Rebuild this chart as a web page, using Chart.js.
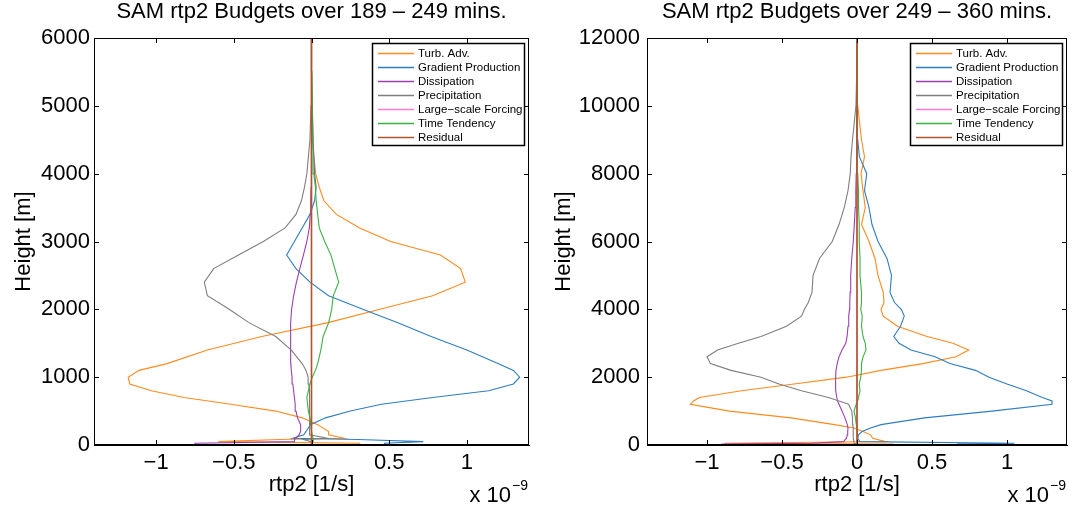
<!DOCTYPE html>
<html>
<head>
<meta charset="utf-8">
<script src="https://cdn.jsdelivr.net/npm/chart.js@4.4.0/dist/chart.umd.min.js"></script>
<style>
  html, body { margin: 0; padding: 0; background: #fff; }
  #wrap { display: flex; width: 1072px; height: 512px; }
  canvas { display: block; }
</style>
</head>
<body>
<div id="wrap">
  <canvas id="leftChart" width="536" height="512"></canvas>
  <canvas id="rightChart" width="536" height="512"></canvas>
</div>
<script>
const seriesNames = ['Turb. Adv.', 'Gradient Production', 'Dissipation', 'Precipitation', 'Large\u2212scale Forcing', 'Time Tendency', 'Residual']
const seriesColors = ['#ff8a1e', '#2f7dc0', '#9b40b0', '#7f7f7f', '#ff78cc', '#3cb043', '#b0542a']

const xTicks = [-1, -0.5, 0, 0.5, 1]
const xTickLabels = ['\u22121', '\u22120.5', '0', '0.5', '1']

// left panel: 189 - 249 mins
const leftTitle = 'SAM rtp2 Budgets over 189 \u2013 249 mins.'
const leftYTicks = [0, 1000, 2000, 3000, 4000, 5000, 6000]
const leftHeights = [0, 25, 50, 80, 100, 150, 200, 300, 400, 500, 600, 700, 800, 900, 1000, 1100, 1200,
  1400, 1600, 1800, 2000, 2200, 2400, 2600, 2800, 3000, 3200, 3400, 3600, 3800, 4000, 4500, 5000, 5500, 6000]
const leftTurbAdv = [0.31, 0.31, -0.6, -0.21, 0.21, 0.11, 0.11, 0.04, -0.06, -0.23, -0.52, -0.82, -1.03, -1.17, -1.18, -1.11, -0.93,
  -0.67, -0.32, 0.1, 0.44, 0.78, 0.99, 0.96, 0.83, 0.51, 0.31, 0.16, 0.08, 0.05, 0.027, 0.005, 0.002, 0, 0]
const leftGradProd = [0.47, 0.47, 0.72, 0.3, -0.12, -0.05, -0.035, -0.007, 0.09, 0.25, 0.45, 0.78, 1.14, 1.3, 1.34, 1.3, 1.2,
  1.0, 0.77, 0.56, 0.33, 0.11, -0.01, -0.1, -0.16, -0.11, -0.06, -0.01, 0.02, 0.03, 0.02, 0.01, 0.005, 0, 0]
const leftDissip = [-0.75, -0.75, -0.11, -0.11, -0.1, -0.08, -0.07, -0.07, -0.09, -0.1, -0.105, -0.11, -0.115, -0.12, -0.125, -0.13, -0.133,
  -0.135, -0.135, -0.133, -0.128, -0.115, -0.097, -0.075, -0.052, -0.03, -0.014, -0.008, -0.005, -0.003, -0.002, 0, 0, 0, 0]
const leftPrecip = [0, 0, 0, -0.05, 0.1, -0.01, -0.01, -0.011, -0.011, -0.012, -0.013, -0.015, -0.016, -0.018, -0.022, -0.035, -0.06,
  -0.13, -0.23, -0.4, -0.53, -0.67, -0.69, -0.63, -0.47, -0.31, -0.17, -0.1, -0.065, -0.045, -0.03, -0.01, -0.003, 0, 0]
const leftForcing = [0, 0, 0, 0, 0, 0, 0, 0, 0, 0, 0, 0, 0, 0, 0, 0, 0,
  0, 0, 0, 0, 0, 0, 0, 0, 0, 0, 0, 0, 0, 0, 0, 0, 0, 0]
const leftTendency = [0.005, 0.005, 0.01, 0.01, 0.01, 0.005, 0, -0.005, -0.01, -0.02, -0.025, -0.03, -0.02, -0.01, 0.005, 0.025, 0.04,
  0.06, 0.075, 0.11, 0.13, 0.14, 0.175, 0.15, 0.125, 0.085, 0.05, 0.04, 0.03, 0.025, 0.015, 0.01, 0.005, 0.003, 0]
const leftResidual = [0, 0, 0, 0, 0, 0, 0, 0, 0, 0, 0, 0, 0, 0, 0, 0, 0,
  0, 0, 0, 0, 0, 0, 0, 0, 0, 0, 0, 0, 0, 0, 0, 0, 0, 0]

// right panel: 249 - 360 mins
const rightTitle = 'SAM rtp2 Budgets over 249 \u2013 360 mins.'
const rightYTicks = [0, 2000, 4000, 6000, 8000, 10000, 12000]
const rightHeights = [0, 25, 50, 100, 200, 300, 400, 500, 600, 800, 1000, 1200, 1300, 1400,
  1600, 1800, 2000, 2200, 2400, 2600, 2800, 3000, 3200, 3500, 3800, 4000, 4200, 4500,
  5000, 5500, 6000, 6500, 7000, 7500, 8000, 8500, 9000, 10000, 11000, 12000]
const rightTurbAdv = [0.24, 0.24, -0.88, 0.19, 0.105, 0.09, 0.04, -0.02, -0.15, -0.44, -0.85, -1.11, -1.09, -1.05,
  -0.77, -0.42, -0.07, 0.16, 0.44, 0.66, 0.745, 0.64, 0.467, 0.27, 0.175, 0.16, 0.18, 0.175,
  0.14, 0.12, 0.08, 0.03, 0.055, 0.04, 0.027, 0.05, 0.03, 0.005, 0, 0]
const rightGradProd = [0.67, 0.67, 1.05, 0.02, 0.005, 0.01, 0.035, 0.09, 0.16, 0.45, 0.9, 1.3, 1.3, 1.235,
  1.13, 1.0, 0.88, 0.79, 0.62, 0.52, 0.36, 0.28, 0.245, 0.29, 0.315, 0.295, 0.25, 0.22,
  0.23, 0.2, 0.14, 0.1, 0.08, 0.05, 0.065, 0.016, 0.005, 0, 0, 0]
const rightDissip = [-0.9, -0.9, -0.3, -0.09, -0.07, -0.065, -0.062, -0.06, -0.065, -0.08, -0.1, -0.12, -0.13, -0.135,
  -0.142, -0.143, -0.142, -0.14, -0.132, -0.12, -0.1, -0.075, -0.066, -0.06, -0.055, -0.05, -0.048, -0.046,
  -0.042, -0.035, -0.025, -0.018, -0.012, -0.008, -0.005, -0.003, -0.002, 0, 0, 0]
const rightPrecip = [0, 0, -0.02, -0.02, -0.025, -0.025, -0.025, -0.025, -0.028, -0.03, -0.035, -0.056, -0.12, -0.19,
  -0.37, -0.52, -0.64, -0.84, -0.977, -1.0, -0.93, -0.79, -0.64, -0.47, -0.37, -0.35, -0.325, -0.3,
  -0.293, -0.25, -0.165, -0.12, -0.085, -0.06, -0.045, -0.04, -0.03, -0.007, -0.002, 0]
const rightForcing = [0, 0, 0, 0, 0, 0, 0, 0, 0, 0, 0, 0, 0, 0,
  0, 0, 0, 0, 0, 0, 0, 0, 0, 0, 0, 0, 0, 0,
  0, 0, 0, 0, 0, 0, 0, 0, 0, 0, 0, 0]
const rightTendency = [0, 0, 0, 0.005, 0.005, 0.005, 0.005, 0, -0.005, -0.01, -0.02, -0.005, 0.005, 0.01,
  0.02, 0.015, 0.025, 0.03, 0.03, 0.04, 0.06, 0.055, 0.04, 0.03, 0.035, 0.025, 0.03, 0.03,
  0.02, 0.02, 0.015, 0.015, 0.01, 0.01, 0.005, 0.003, 0, 0, 0, 0]
const rightResidual = [0, 0, 0, 0, 0, 0, 0, 0, 0, 0, 0, 0, 0, 0,
  0, 0, 0, 0, 0, 0, 0, 0, 0, 0, 0, 0, 0, 0,
  0, 0, 0, 0, 0, 0, 0, 0, 0, 0, 0, 0]

const fontFamily = "'Liberation Sans', Arial, Helvetica, sans-serif"

// box around the plot, inward ticks on all four sides, legend and the x 10^-9 note
const framePlugin = {
  id: 'frame',
  afterDraw(chart) {
    const { ctx, chartArea: a, scales } = chart
    ctx.save()
    ctx.strokeStyle = '#000'
    ctx.lineWidth = 1
    ctx.strokeRect(a.left + 0.5, a.top + 0.5, a.right - a.left - 1, a.bottom - a.top - 1)

    ctx.beginPath()
    scales.x.ticks.forEach((t) => {
      const px = Math.round(scales.x.getPixelForValue(t.value)) + 0.5
      ctx.moveTo(px, a.bottom)
      ctx.lineTo(px, a.bottom - 5)
      ctx.moveTo(px, a.top)
      ctx.lineTo(px, a.top + 5)
    })
    scales.y.ticks.forEach((t) => {
      const py = Math.round(scales.y.getPixelForValue(t.value)) + 0.5
      ctx.moveTo(a.left, py)
      ctx.lineTo(a.left + 5, py)
      ctx.moveTo(a.right, py)
      ctx.lineTo(a.right - 5, py)
    })
    ctx.stroke()

    // legend
    const boxW = 152
    const boxH = 102
    const bx = a.right - 5 - boxW
    const by = a.top + 5
    ctx.fillStyle = '#fff'
    ctx.fillRect(bx, by, boxW, boxH)
    ctx.lineWidth = 1.5
    ctx.strokeRect(bx + 0.5, by + 0.5, boxW, boxH)
    ctx.font = '11.5px ' + fontFamily
    ctx.textBaseline = 'middle'
    ctx.textAlign = 'left'
    chart.data.datasets.forEach((ds, i) => {
      const ry = by + 10 + i * 14
      ctx.strokeStyle = ds.borderColor
      ctx.lineWidth = 1.5
      ctx.beginPath()
      ctx.moveTo(bx + 6, ry + 0.5)
      ctx.lineTo(bx + 42, ry + 0.5)
      ctx.stroke()
      ctx.fillStyle = '#000'
      ctx.fillText(ds.label, bx + 46, ry + 1)
    })

    // exponent note
    ctx.fillStyle = '#000'
    ctx.textBaseline = 'alphabetic'
    ctx.textAlign = 'right'
    ctx.font = '14px ' + fontFamily
    const sup = '\u22129'
    const supW = ctx.measureText(sup).width
    ctx.fillText(sup, a.right - 1, 490)
    ctx.font = '22px ' + fontFamily
    ctx.fillText('x 10', a.right - 2 - supW, 502)
    ctx.restore()
  },
}

function makeChart(id, cfg) {
  const tickFont = { family: fontFamily, size: 22, lineHeight: 1.2 }
  const datasets = seriesNames.map((name, i) => ({
    label: name,
    data: cfg.heights.map((h, k) => ({ x: cfg.series[i][k], y: h })),
    showLine: true,
    borderColor: seriesColors[i],
    borderWidth: i === 6 ? 1.6 : 1.1,
    pointRadius: 0,
    fill: false,
    tension: 0,
    order: seriesNames.length - i,
  }))

  return new Chart(document.getElementById(id), {
    type: 'scatter',
    data: { datasets },
    options: {
      responsive: false,
      animation: false,
      devicePixelRatio: 1,
      layout: { padding: { top: 0, left: 0, right: cfg.padRight, bottom: 0 } },
      plugins: {
        legend: { display: false },
        tooltip: { enabled: false },
        title: {
          display: true,
          text: cfg.title,
          fullSize: false,
          color: '#000',
          font: { family: fontFamily, size: 22, weight: 'normal', lineHeight: 1 },
          padding: { top: 1, bottom: 15 },
        },
      },
      scales: {
        x: {
          type: 'linear',
          min: -1.4,
          max: 1.4,
          afterFit: (s) => {
            s.height = 67
          },
          afterBuildTicks: (s) => {
            s.ticks = xTicks.map((v) => ({ value: v }))
          },
          ticks: {
            callback: (v) => xTickLabels[xTicks.indexOf(v)],
            color: '#000',
            font: tickFont,
            padding: 5,
            maxRotation: 0,
            autoSkip: false,
          },
          grid: { display: false, drawTicks: false },
          border: { display: true, color: '#000' },
          title: {
            display: true,
            text: 'rtp2 [1/s]',
            color: '#000',
            font: { family: fontFamily, size: 22, lineHeight: 1 },
            padding: { top: 0, bottom: 16 },
          },
        },
        y: {
          type: 'linear',
          min: cfg.yTicks[0],
          max: cfg.yTicks[cfg.yTicks.length - 1],
          afterFit: (s) => {
            s.width = cfg.yWidth
          },
          afterBuildTicks: (s) => {
            s.ticks = cfg.yTicks.map((v) => ({ value: v }))
          },
          ticks: {
            callback: (v) => String(v),
            color: '#000',
            font: tickFont,
            padding: cfg.yTickPad,
            autoSkip: false,
          },
          grid: { display: false, drawTicks: false },
          border: { display: true, color: '#000' },
          title: {
            display: true,
            text: 'Height [m]',
            color: '#000',
            font: { family: fontFamily, size: 22, lineHeight: 1 },
            padding: { top: cfg.yTitlePad, bottom: 0 },
          },
        },
      },
    },
    plugins: [framePlugin],
  })
}

makeChart('leftChart', {
  title: leftTitle,
  heights: leftHeights,
  series: [leftTurbAdv, leftGradProd, leftDissip, leftPrecip, leftForcing, leftTendency, leftResidual],
  yTicks: leftYTicks,
  yWidth: 94,
  yTickPad: 4,
  yTitlePad: 13,
  padRight: 7,
})

makeChart('rightChart', {
  title: rightTitle,
  heights: rightHeights,
  series: [rightTurbAdv, rightGradProd, rightDissip, rightPrecip, rightForcing, rightTendency, rightResidual],
  yTicks: rightYTicks,
  yWidth: 111,
  yTickPad: 7,
  yTitlePad: 17,
  padRight: 5,
})
</script>
</body>
</html>
